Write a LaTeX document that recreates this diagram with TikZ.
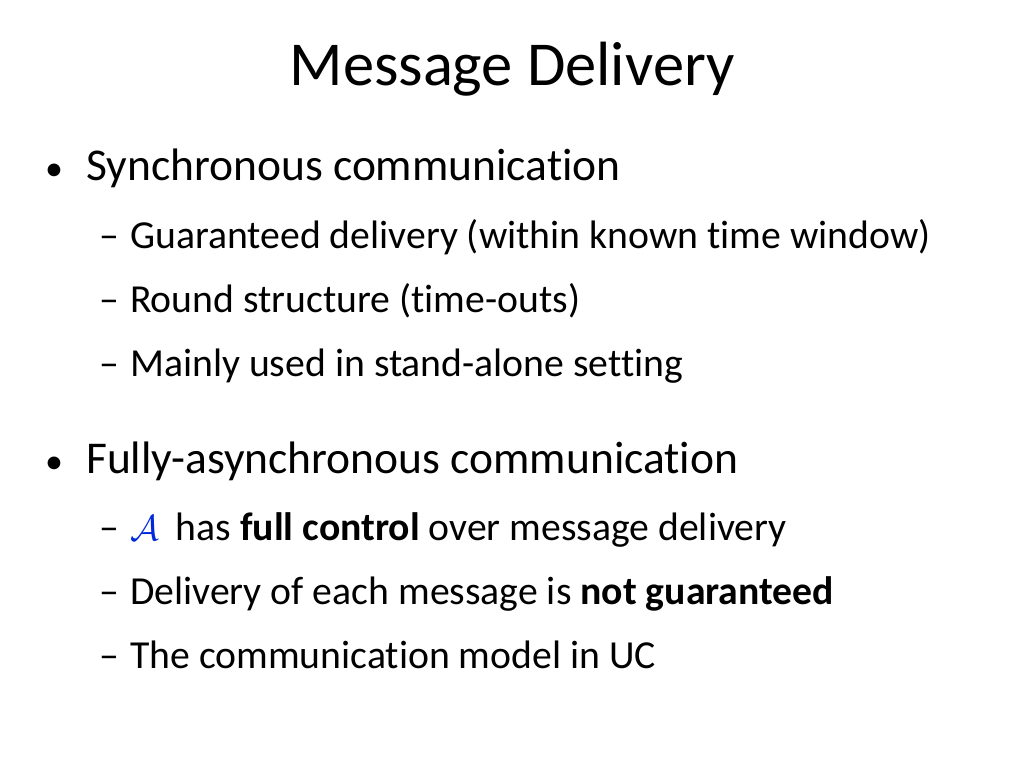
\documentclass[tikz,border=0pt]{standalone}
\usepackage{fontspec}
\setmainfont[Ligatures=NoCommon]{Carlito}
\begin{document}
\begin{tikzpicture}[x=1pt,y=-1pt,
  l1/.style={anchor=base west,inner sep=0pt,font=\fontsize{45.5}{52}\selectfont},
  bu/.style={anchor=base west,inner sep=0pt,font=\fontsize{36}{40}\selectfont},
  l2/.style={anchor=base west,inner sep=0pt,font=\fontsize{39.7}{46}\selectfont}]
\useasboundingbox (0,0) rectangle (1024,768);
\node[anchor=base,inner sep=0pt,font=\fontsize{62.5}{70}\selectfont] (title) at (512,85) {Message Delivery};
\node[bu] (b1) at (45,180) {•};
\node[l1] (s1) at (86,180) {Synchronous communication};
\node[l2] (d1) at (99,248) {–};
\node[l2] (s11) at (130,248) {Guaranteed delivery (within known time window)};
\node[l2] (d2) at (99,312) {–};
\node[l2] (s12) at (130,312) {Round structure (time-outs)};
\node[l2] (d3) at (99,376) {–};
\node[l2] (s13) at (130,376) {Mainly used in stand-alone setting};
\node[bu] (b2) at (45,473) {•};
\node[l1] (s2) at (86,473) {Fully-asynchronous communication};
\node[l2] (d4) at (99,540) {–};
\node[l2] (s21) at (130,540) {\textcolor[RGB]{0,40,220}{\scalebox{1.45}{$\mathcal{A}$}}\hspace{0.2em} has \textbf{full control} over message delivery};
\node[l2] (d5) at (99,604) {–};
\node[l2] (s22) at (130,604) {Delivery of each message is \textbf{not guaranteed}};
\node[l2] (d6) at (99,668) {–};
\node[l2] (s23) at (130,668) {The communication model in UC};
\end{tikzpicture}
\end{document}
